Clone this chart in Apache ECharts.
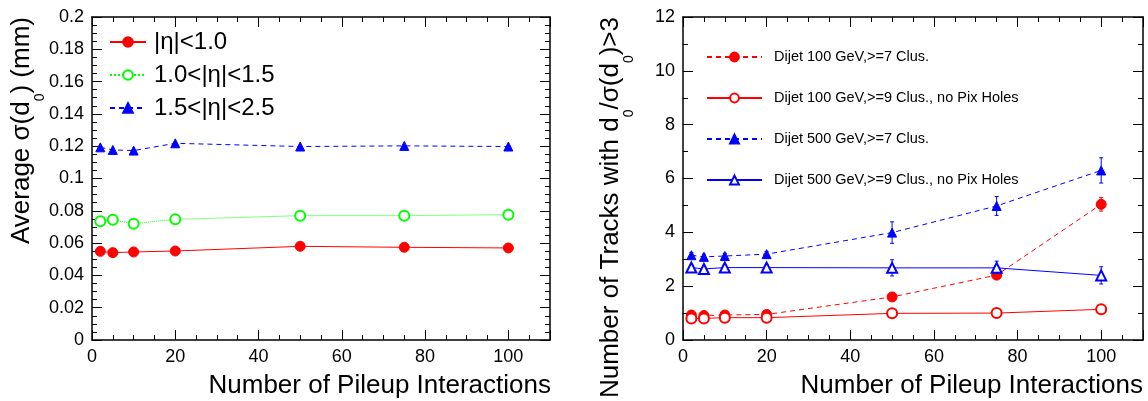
<!DOCTYPE html>
<html>
<head>
<meta charset="utf-8">
<script src="https://cdn.jsdelivr.net/npm/echarts@6/dist/echarts.min.js"></script>
<style>
	html, body { margin: 0; padding: 0; background: #fff; }
	#wrap { position: relative; width: 1148px; height: 401px; }
	#left { position: absolute; left: 0; top: 0; width: 590px; height: 401px; }
	#right { position: absolute; left: 590px; top: 0; width: 558px; height: 401px; }
</style>
</head>
<body>
<div id="wrap">
	<div id="left"></div>
	<div id="right"></div>
</div>
<script>
// 横轴: pileup 数
var x_pileup = [2, 5, 10, 20, 50, 75, 100];

// 左图: average sigma(d0) (mm)
var eta_names = ['|η|<1.0', '1.0<|η|<1.5', '1.5<|η|<2.5'];
var sig_eta10 = [0.0549, 0.0541, 0.0545, 0.0551, 0.0580, 0.0574, 0.0570];
var sig_eta15 = [0.0735, 0.0745, 0.0720, 0.0747, 0.0770, 0.0770, 0.0776];
var sig_eta25 = [0.1193, 0.1177, 0.1173, 0.1218, 0.1198, 0.1202, 0.1198];

// 右图: number of tracks with d0/sigma(d0)>3
var dijet_names = ['Dijet 100 GeV,>=7 Clus.', 'Dijet 100 GeV,>=9 Clus., no Pix Holes',
	'Dijet 500 GeV,>=7 Clus.', 'Dijet 500 GeV,>=9 Clus., no Pix Holes'];
var n_100_7 = [0.93, 0.91, 0.93, 0.95, 1.60, 2.41, 5.04];
var e_100_7 = [0.08, 0.08, 0.08, 0.08, 0.10, 0.12, 0.25];
var n_100_9 = [0.80, 0.80, 0.83, 0.83, 0.99, 1.00, 1.14];
var e_100_9 = [0.04, 0.04, 0.04, 0.04, 0.05, 0.05, 0.06];
var n_500_7 = [3.15, 3.09, 3.12, 3.19, 3.99, 4.98, 6.30];
var e_500_7 = [0.10, 0.10, 0.10, 0.10, 0.40, 0.35, 0.47];
var n_500_9 = [2.69, 2.64, 2.69, 2.69, 2.68, 2.68, 2.40];
var e_500_9 = [0.10, 0.10, 0.10, 0.10, 0.30, 0.25, 0.32];

// 轴范围 [min, max, 主刻度, 次刻度分割]
var x_range = [0, 110, 20, 4];
var y_range_left = [0, 0.2, 0.02, 4];
var y_range_right = [0, 12, 2, 2];

var font_name = 'Liberation Sans';

function pairs(xs, ys) {
	return xs.map(function(x, i) {
		return [x, ys[i]];
	});
}

function err_pairs(xs, ys, es) {
	return xs.map(function(x, i) {
		return [x, ys[i] - es[i], ys[i] + es[i]];
	});
}

// 坐标轴 (四边都有向内刻度, 只有下/左显示标签)
function make_axis(pos, range, hide_max) {
	return {
		type : 'value',
		position : pos,
		min : range[0],
		max : range[1],
		interval : range[2],
		splitLine : { show : false },
		axisLine : { show : true, onZero : false, lineStyle : { color : '#000', width : 1.5 } },
		axisTick : { show : true, inside : true, length : 10, lineStyle : { color : '#000', width : 1 } },
		minorTick : { show : true, splitNumber : range[3], length : 5, lineStyle : { color : '#000', width : 1 } },
		axisLabel : (pos == 'bottom' || pos == 'left') ? {
			showMaxLabel : !hide_max,
			color : '#000',
			fontSize : 18,
			fontFamily : font_name
		} : { show : false }
	};
}

function line_series(name, data, color, ltype, symbol, size) {
	return {
		name : name,
		type : 'line',
		data : data,
		symbol : symbol,
		symbolSize : size,
		showSymbol : true,
		lineStyle : { color : color, width : 1, type : ltype },
		itemStyle : { color : color, borderColor : color, borderWidth : 1 }
	};
}

// 误差棒
function err_series(data, color) {
	return {
		type : 'custom',
		data : data,
		encode : { x : 0, y : [1, 2] },
		renderItem : function(params, api) {
			var x = api.value(0);
			var lo = api.coord([x, api.value(1)]);
			var hi = api.coord([x, api.value(2)]);
			var c = 2;
			var st = { stroke : color, lineWidth : 1 };
			return {
				type : 'group',
				children : [
					{ type : 'line', shape : { x1 : lo[0], y1 : lo[1], x2 : hi[0], y2 : hi[1] }, style : st },
					{ type : 'line', shape : { x1 : lo[0] - c, y1 : lo[1], x2 : lo[0] + c, y2 : lo[1] }, style : st },
					{ type : 'line', shape : { x1 : hi[0] - c, y1 : hi[1], x2 : hi[0] + c, y2 : hi[1] }, style : st }
				]
			};
		}
	};
}

function title_text(x, y, text, rotated) {
	var t = {
		type : 'text',
		x : x,
		y : y,
		silent : true,
		style : {
			text : text,
			fontSize : 26,
			fontFamily : font_name,
			fill : '#000',
			align : 'right',
			verticalAlign : 'middle',
			lineHeight : 50,
			rich : {
				s : { fontSize : 14, fontFamily : font_name, fill : '#000', lineHeight : 8, verticalAlign : 'bottom' }
			}
		}
	};
	if (rotated) {
		t.rotation = Math.PI / 2;
	}
	return t;
}

// 左图
var chart_left = echarts.init(document.getElementById('left'));
chart_left.setOption({
	animation : false,
	grid : { left : 92, right : 40, top : 17, bottom : 61 },
	xAxis : [make_axis('bottom', x_range, true), make_axis('top', x_range, true)],
	yAxis : [make_axis('left', y_range_left, false), make_axis('right', y_range_left, false)],
	legend : {
		data : eta_names,
		orient : 'vertical',
		left : 109,
		top : 30,
		padding : 0,
		itemWidth : 36,
		itemHeight : 12,
		itemGap : 9,
		selectedMode : false,
		textStyle : { fontSize : 24, lineHeight : 24, color : '#000', fontFamily : font_name, padding : [0, 0, 0, 3] }
	},
	graphic : [
		title_text(551, 386, 'Number of Pileup Interactions', false),
		title_text(22, 17, 'Average σ(d{s|0}) (mm)', true)
	],
	series : [
		line_series(eta_names[0], pairs(x_pileup, sig_eta10), '#ff0000', 'solid', 'circle', 10),
		line_series(eta_names[1], pairs(x_pileup, sig_eta15), '#00ff00', 'dotted', 'emptyCircle', 10),
		line_series(eta_names[2], pairs(x_pileup, sig_eta25), '#0000ff', [5, 4], 'triangle', 9)
	]
});

// 右图
var chart_right = echarts.init(document.getElementById('right'));
chart_right.setOption({
	animation : false,
	grid : { left : 93, right : 5, top : 17, bottom : 61 },
	xAxis : [make_axis('bottom', x_range, true), make_axis('top', x_range, true)],
	yAxis : [make_axis('left', y_range_right, false), make_axis('right', y_range_right, false)],
	legend : {
		data : dijet_names,
		orient : 'vertical',
		left : 116,
		top : 49,
		padding : 0,
		itemWidth : 55,
		itemHeight : 11,
		itemGap : 25,
		selectedMode : false,
		textStyle : { fontSize : 14.5, lineHeight : 16, color : '#000', fontFamily : font_name, padding : [0, 0, 0, 7] }
	},
	graphic : [
		title_text(553, 386, 'Number of Pileup Interactions', false),
		title_text(21, 17, 'Number of Tracks with d{s|0}/σ(d{s|0})>3', true)
	],
	series : [
		err_series(err_pairs(x_pileup, n_100_7, e_100_7), '#ff0000'),
		err_series(err_pairs(x_pileup, n_100_9, e_100_9), '#ff0000'),
		err_series(err_pairs(x_pileup, n_500_7, e_500_7), '#0000ff'),
		err_series(err_pairs(x_pileup, n_500_9, e_500_9), '#0000ff'),
		line_series(dijet_names[0], pairs(x_pileup, n_100_7), '#ff0000', [5, 4], 'circle', 10),
		line_series(dijet_names[1], pairs(x_pileup, n_100_9), '#ff0000', 'solid', 'emptyCircle', 10),
		line_series(dijet_names[2], pairs(x_pileup, n_500_7), '#0000ff', [5, 4], 'triangle', 9),
		line_series(dijet_names[3], pairs(x_pileup, n_500_9), '#0000ff', 'solid', 'emptyTriangle', 10)
	]
});
</script>
</body>
</html>
